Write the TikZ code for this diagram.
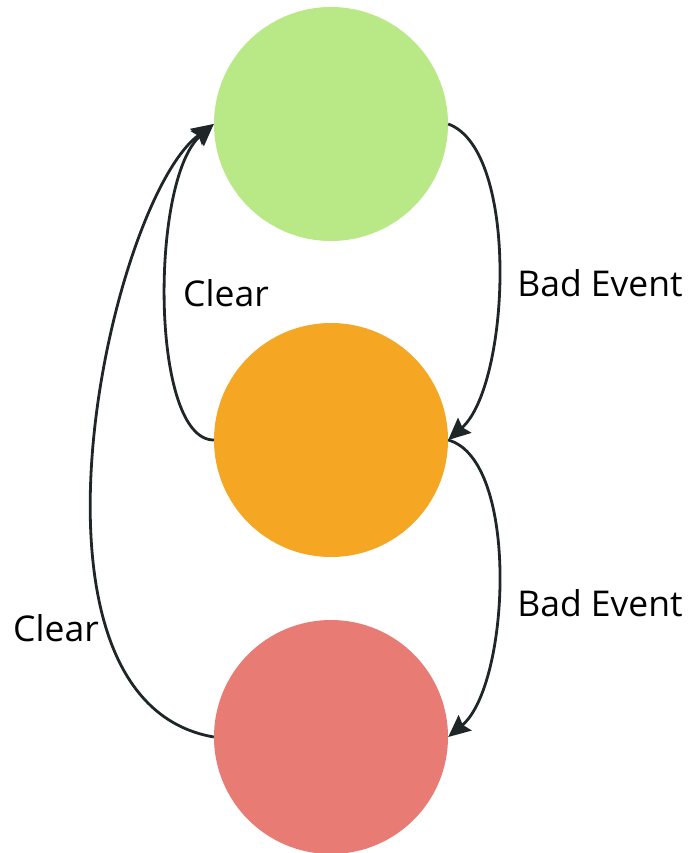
\documentclass[tikz,border=0pt]{standalone}
\usepackage{fontspec}
\setmainfont{Open Sans}
\usetikzlibrary{arrows.meta}
\definecolor{stategreen}{HTML}{B9E886}
\definecolor{stateorange}{HTML}{F5A623}
\definecolor{statered}{HTML}{E87B73}
\definecolor{edgeink}{HTML}{1E2627}
\begin{document}
\begin{tikzpicture}[x=1pt,y=-1pt,
  state/.style={circle,draw=none,minimum size=234pt,inner sep=0pt},
  trans/.style={draw=edgeink,line width=2.8pt,
    -{Stealth[length=22pt,width=20pt,inset=3pt]}},
  lbl/.style={font=\fontsize{35.5}{40}\selectfont,text=black,inner sep=0pt}]
\useasboundingbox (0,0) rectangle (690,853);
% three states
\node[state,fill=stategreen]  (ok)   at (331,124) {};
\node[state,fill=stateorange] (warn) at (331,440) {};
\node[state,fill=statered]    (bad)  at (331,737) {};
% escalation on the right
\draw[trans] (ok.east) .. controls (520,150) and (510,385) .. (warn.east);
\draw[trans] (warn.east) .. controls (520,460) and (510,685) .. (bad.east);
% clearing back to the top on the left
\draw[trans] (warn.west) .. controls (150,440) and (150,180) .. (ok.west);
\draw[trans] (bad.west) .. controls (0,700) and (110,200) .. (ok.west);
% labels
\node[lbl] (l1) at (600,283) {Bad Event};
\node[lbl] (l2) at (600,603) {Bad Event};
\node[lbl] (l3) at (226,293) {Clear};
\node[lbl] (l4) at (56,628) {Clear};
\end{tikzpicture}
\end{document}
